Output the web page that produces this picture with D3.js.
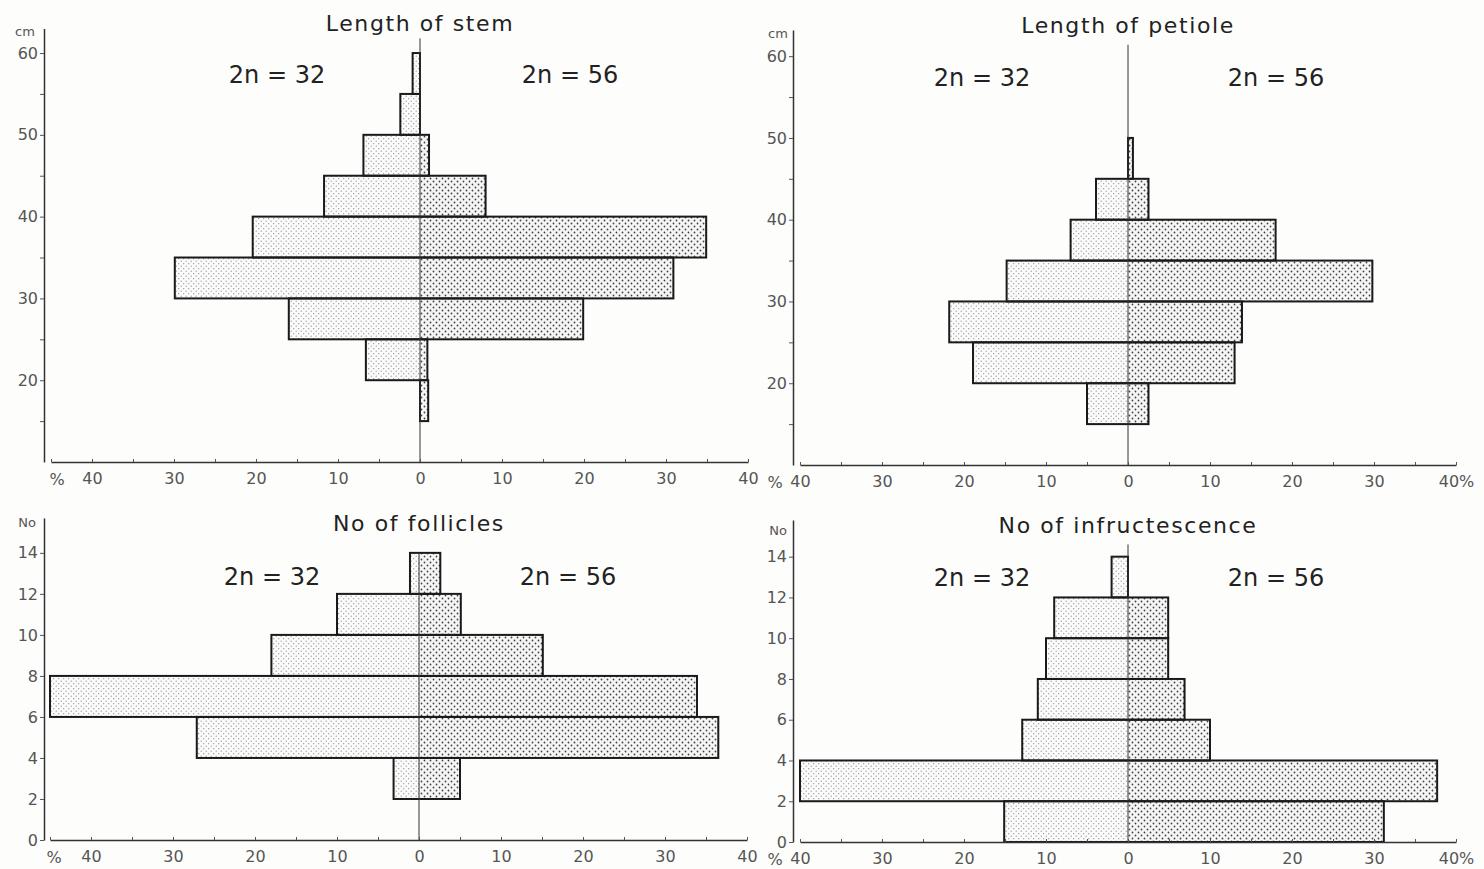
<!DOCTYPE html>
<html>
<head>
<meta charset="utf-8">
<script src="https://cdn.jsdelivr.net/npm/d3@7"></script>
<style>
  body { margin: 0; background: #fdfdfc; }
  svg { display: block; }
  text { font-family: "DejaVu Sans", sans-serif; }
</style>
</head>
<body>
<svg id="chart" width="1484" height="869"></svg>
<script>
// ---- data (percent of plants per class) ----
const stemBins = [15, 20, 25, 30, 35, 40, 45, 50, 55];
const stem32   = [0, 6.6, 16, 29.9, 20.4, 11.7, 6.9, 2.4, 0.9];
const stem56   = [1.0, 0.9, 19.9, 30.9, 34.9, 8, 1.1, 0, 0];

const petioleBins = [15, 20, 25, 30, 35, 40, 45];
const petiole32   = [5, 18.9, 21.8, 14.8, 7, 3.9, 0];
const petiole56   = [2.5, 13, 13.9, 29.8, 18, 2.5, 0.6];

const follicleBins = [2, 4, 6, 8, 10, 12];
const follicle32   = [3.1, 27.1, 45, 18, 10, 1.1];
const follicle56   = [5, 36.5, 33.9, 15.1, 5.1, 2.6];

const infrBins = [0, 2, 4, 6, 8, 10, 12];
const infr32   = [15.1, 40, 12.9, 11, 10, 9, 2];
const infr56   = [31.2, 37.7, 10, 6.9, 4.9, 4.9, 0];

const pctTicks = [-45, -40, -35, -30, -25, -20, -15, -10, -5, 0, 5, 10, 15, 20, 25, 30, 35, 40];
const cmTicks  = [15, 20, 25, 30, 35, 40, 45, 50, 55, 60];
const noTicks  = [0, 2, 4, 6, 8, 10, 12, 14];
const groups   = ["2n = 32", "2n = 56"];

const panels = [
  {title: "Length of stem", unit: "cm", bins: stemBins, step: 5, left: stem32, right: stem56,
   yTicks: cmTicks, major: d => d % 10 === 0,
   axisX: 44, zeroX: 420, xMin: -45, pctX: 57, pctEnd: false,
   yDom: [10, 63], yBottom: 462, yTop: 28.5, zeroTop: 61.8,
   titleY: 31, groupY: 83, groupX: [277, 570], unitX: 25, unitY: 36},
  {title: "Length of petiole", unit: "cm", bins: petioleBins, step: 5, left: petiole32, right: petiole56,
   yTicks: cmTicks, major: d => d % 10 === 0,
   axisX: 793, zeroX: 1128, xMin: -40, pctX: 775, pctEnd: true,
   yDom: [10, 63.2], yBottom: 465, yTop: 30, zeroTop: 61.4,
   titleY: 33, groupY: 86, groupX: [982, 1276], unitX: 778, unitY: 38},
  {title: "No of follicles", unit: "No", bins: follicleBins, step: 2, left: follicle32, right: follicle56,
   yTicks: noTicks, major: d => true,
   axisX: 44, zeroX: 419, xMin: -45, pctX: 54, pctEnd: false,
   yDom: [0, 15.7], yBottom: 840, yTop: 518, zeroTop: 14,
   titleY: 531, groupY: 585, groupX: [272, 568], unitX: 27, unitY: 527},
  {title: "No of infructescence", unit: "No", bins: infrBins, step: 2, left: infr32, right: infr56,
   yTicks: noTicks, major: d => true,
   axisX: 793, zeroX: 1128, xMin: -40, pctX: 775, pctEnd: true,
   yDom: [0, 15.8], yBottom: 842, yTop: 520, zeroTop: 14.6,
   titleY: 533, groupY: 586, groupX: [982, 1276], unitX: 778, unitY: 535}
];

const svg = d3.select("#chart");
svg.append("rect").attr("width", 1484).attr("height", 869).attr("fill", "#fdfdfc");

// dot screens for the two chromosome races
let defs = svg.append("defs");
let p32 = defs.append("pattern").attr("id", "dots32").attr("patternUnits", "userSpaceOnUse")
    .attr("width", 5).attr("height", 5);
p32.append("rect").attr("width", 5).attr("height", 5).attr("fill", "#fbfbfb");
p32.append("circle").attr("cx", 1.2).attr("cy", 1.2).attr("r", 0.6).attr("fill", "#8a8a8a");
p32.append("circle").attr("cx", 3.7).attr("cy", 3.7).attr("r", 0.6).attr("fill", "#8a8a8a");

let p56 = defs.append("pattern").attr("id", "dots56").attr("patternUnits", "userSpaceOnUse")
    .attr("width", 6).attr("height", 6);
p56.append("rect").attr("width", 6).attr("height", 6).attr("fill", "#f6f6f6");
p56.append("circle").attr("cx", 1.5).attr("cy", 1.5).attr("r", 0.9).attr("fill", "#444");
p56.append("circle").attr("cx", 4.5).attr("cy", 4.5).attr("r", 0.9).attr("fill", "#444");

function drawPanel(cfg) {
    let g = svg.append("g");
    let pxPerPct = 8.2;

    let xScale = d3.scaleLinear().domain([cfg.xMin, 40])
        .range([cfg.zeroX + cfg.xMin * pxPerPct, cfg.zeroX + 40 * pxPerPct]);
    let yScale = d3.scaleLinear().domain(cfg.yDom).range([cfg.yBottom, cfg.yTop]);

    let rows = cfg.bins.map((b, i) => ({lo: b, hi: b + cfg.step, l: cfg.left[i], r: cfg.right[i]}));

    // fills
    g.selectAll(".fillL").data(rows).enter().append("rect")
        .attr("x", d => xScale(-d.l))
        .attr("y", d => yScale(d.hi))
        .attr("width", d => xScale(0) - xScale(-d.l))
        .attr("height", d => yScale(d.lo) - yScale(d.hi))
        .attr("fill", "url(#dots32)");
    g.selectAll(".fillR").data(rows).enter().append("rect")
        .attr("x", xScale(0))
        .attr("y", d => yScale(d.hi))
        .attr("width", d => xScale(d.r) - xScale(0))
        .attr("height", d => yScale(d.lo) - yScale(d.hi))
        .attr("fill", "url(#dots56)");

    // outline of each class bar
    g.selectAll(".bar").data(rows).enter().append("rect")
        .attr("x", d => xScale(-d.l))
        .attr("y", d => yScale(d.hi))
        .attr("width", d => xScale(d.r) - xScale(-d.l))
        .attr("height", d => yScale(d.lo) - yScale(d.hi))
        .attr("fill", "none")
        .attr("stroke", "#1a1a1a")
        .attr("stroke-width", 2);

    // centre line
    g.append("line")
        .attr("x1", xScale(0)).attr("x2", xScale(0))
        .attr("y1", yScale(cfg.yDom[0])).attr("y2", yScale(cfg.zeroTop))
        .attr("stroke", "#333").attr("stroke-width", 1);

    // x axis
    let xAxis = g.append("g")
        .attr("transform", `translate(0,${cfg.yBottom})`)
        .call(d3.axisBottom(xScale)
            .tickValues(pctTicks.filter(t => t >= cfg.xMin))
            .tickSizeInner(-3).tickSizeOuter(0)
            .tickFormat(d => d % 10 === 0 ? Math.abs(d) + (d === 40 && cfg.pctEnd ? "%" : "") : ""));
    xAxis.select(".domain").attr("stroke", "#333").attr("stroke-width", 1.5);
    xAxis.selectAll(".tick line").attr("stroke", "#555");
    xAxis.selectAll("text").attr("y", 11).attr("font-size", 16).attr("fill", "#555")
        .attr("font-family", "DejaVu Sans");

    g.append("text").attr("x", cfg.pctX).attr("y", cfg.yBottom + 23)
        .attr("text-anchor", "middle").attr("font-size", 16).attr("fill", "#555").text("%");

    // y axis
    let yAxis = g.append("g")
        .attr("transform", `translate(${cfg.axisX},0)`)
        .call(d3.axisLeft(yScale)
            .tickValues(cfg.yTicks)
            .tickSizeInner(4).tickSizeOuter(0).tickPadding(2)
            .tickFormat(d => cfg.major(d) ? d : ""));
    yAxis.select(".domain").attr("stroke", "#333").attr("stroke-width", 1.5);
    yAxis.selectAll(".tick line").attr("stroke", "#555");
    yAxis.selectAll("text").attr("font-size", 16).attr("fill", "#555")
        .attr("font-family", "DejaVu Sans");

    g.append("text").attr("x", cfg.unitX).attr("y", cfg.unitY)
        .attr("text-anchor", "middle").attr("font-size", 13).attr("fill", "#555").text(cfg.unit);

    // titles
    g.append("text").attr("x", cfg.zeroX).attr("y", cfg.titleY)
        .attr("text-anchor", "middle").attr("font-size", 22).attr("letter-spacing", 1.6)
        .attr("fill", "#222").text(cfg.title);

    g.selectAll(".grp").data(groups).enter().append("text")
        .attr("x", (d, i) => cfg.groupX[i]).attr("y", cfg.groupY)
        .attr("text-anchor", "middle").attr("font-size", 24).attr("fill", "#222")
        .text(d => d);
}

panels.forEach(drawPanel);
</script>
</body>
</html>
